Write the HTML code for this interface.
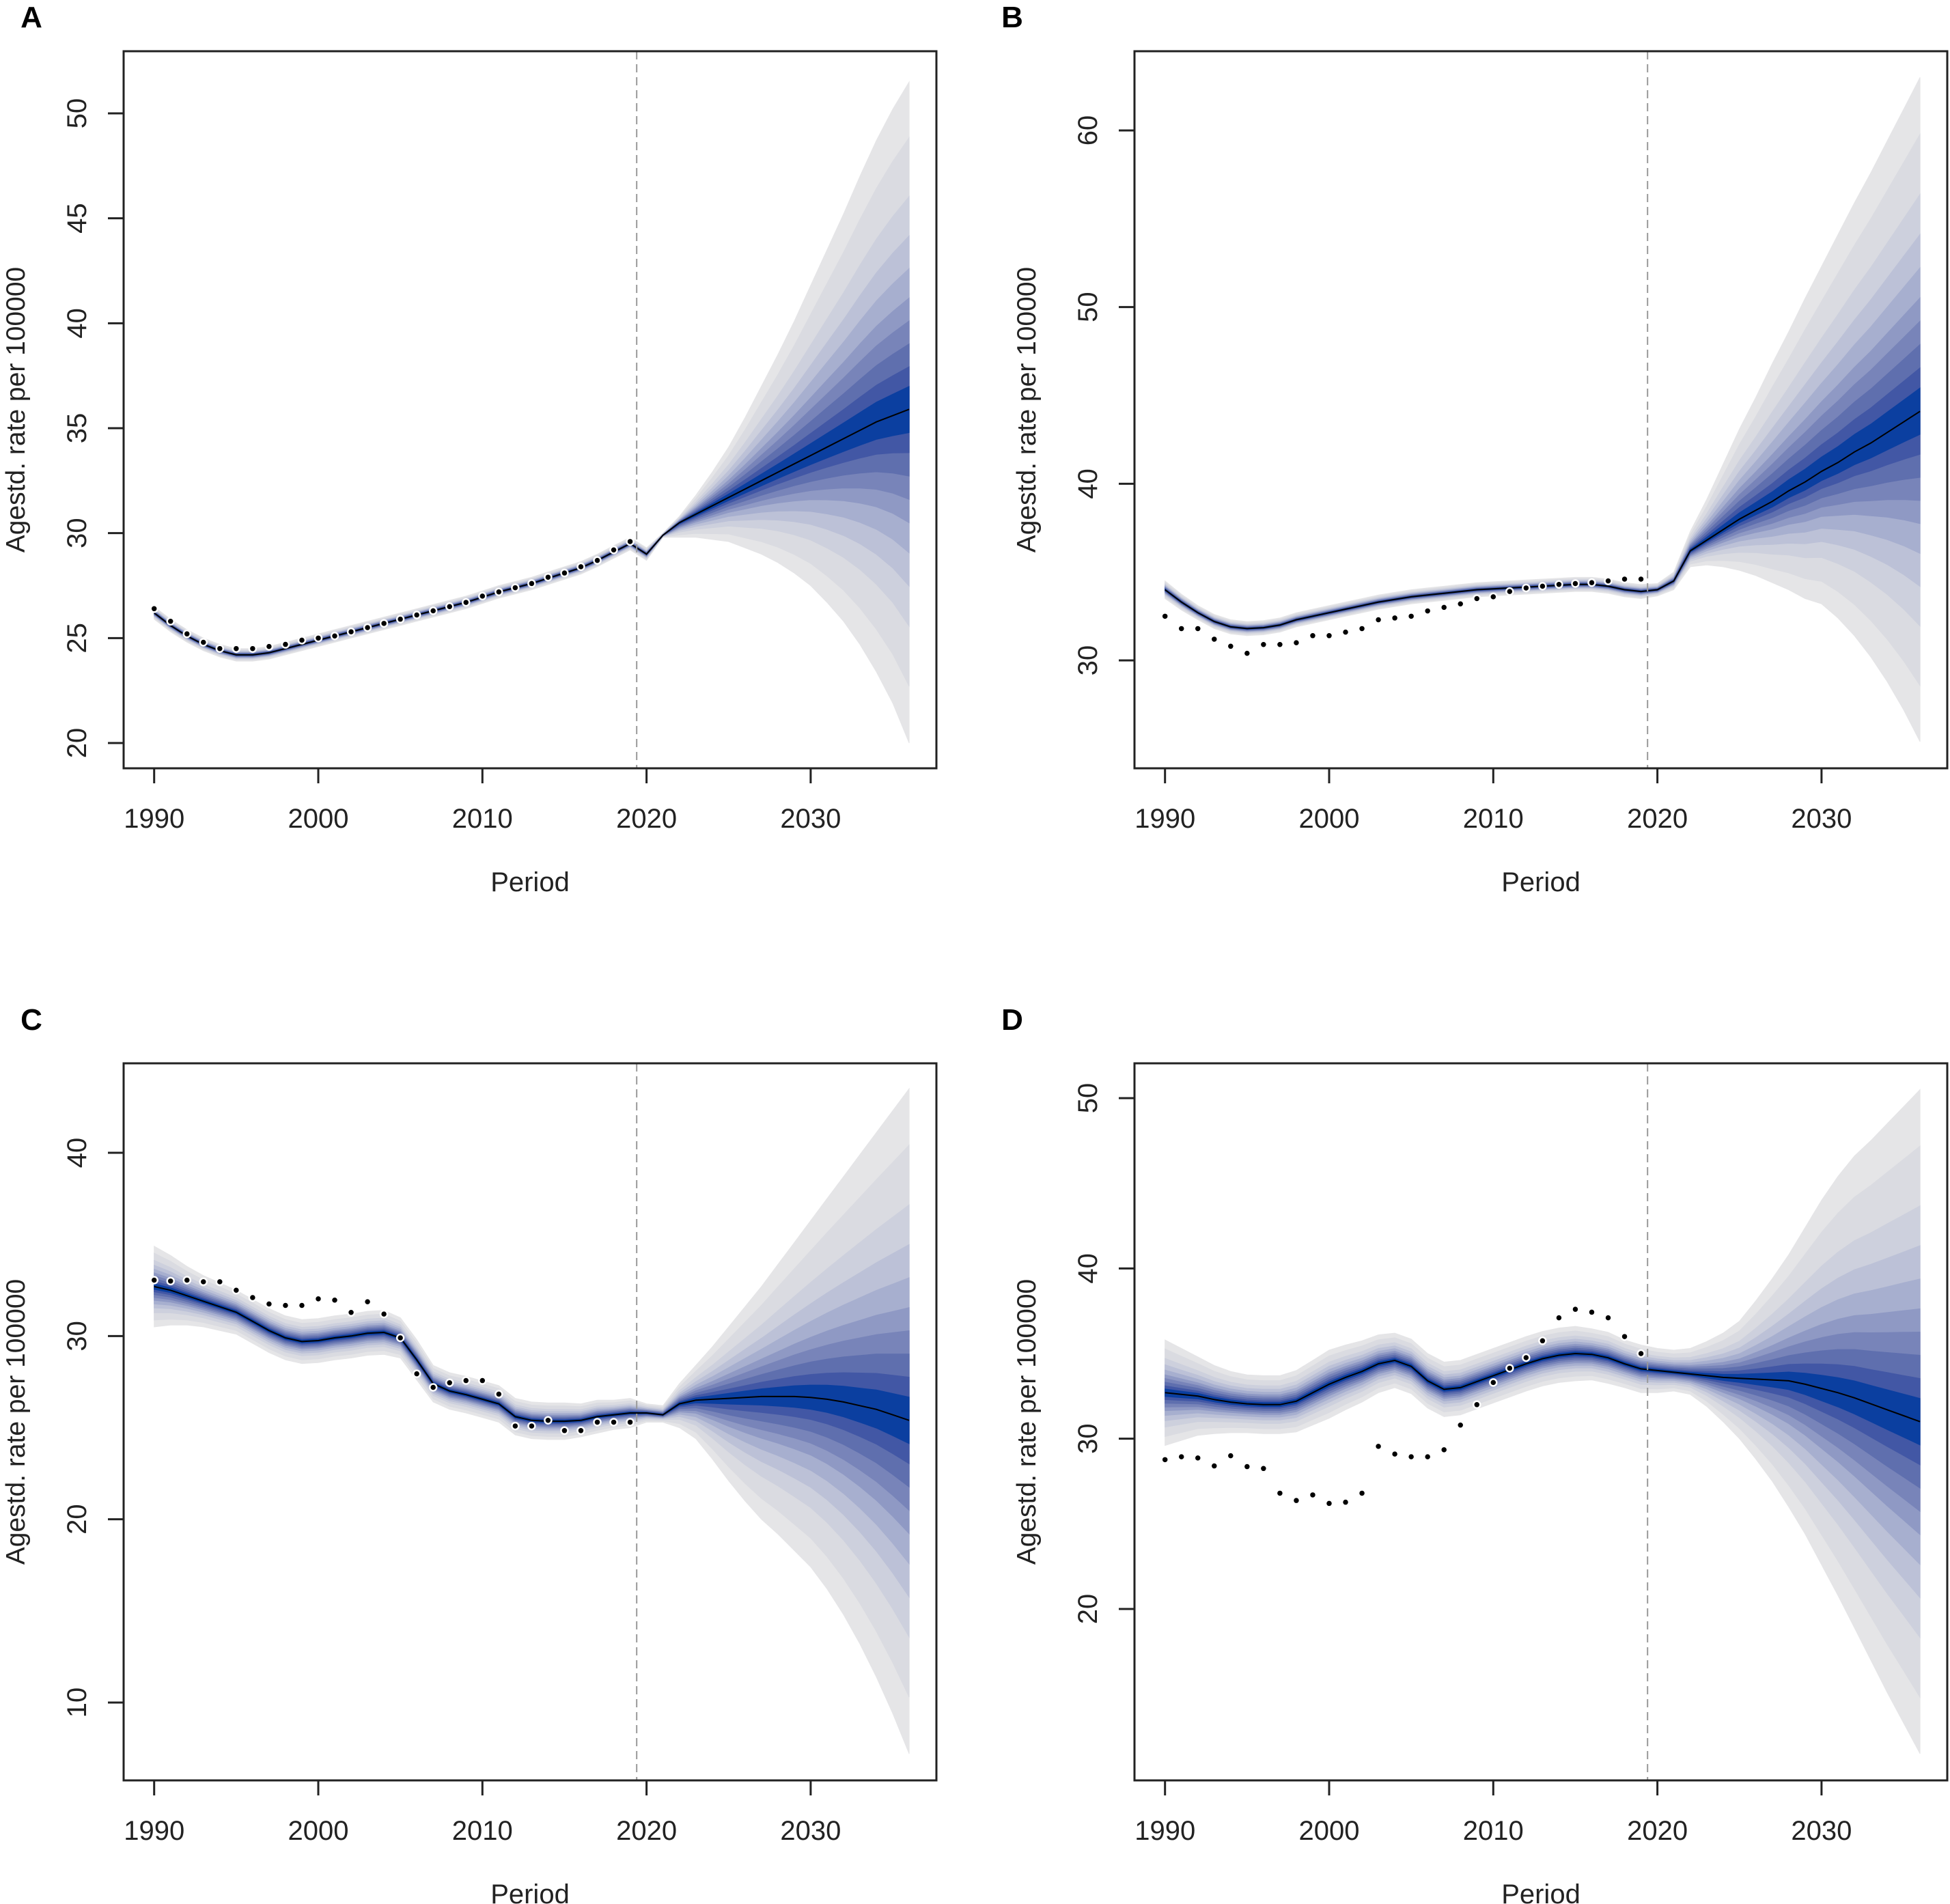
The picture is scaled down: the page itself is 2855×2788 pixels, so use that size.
<!DOCTYPE html>
<html><head><meta charset="utf-8"><style>
html,body{margin:0;padding:0;background:#fff;}
svg{display:block;font-family:"Liberation Sans",Arial,sans-serif;}
</style></head><body>
<svg id="fig" width="2855" height="2788" viewBox="0 0 2855 2788" xmlns="http://www.w3.org/2000/svg"></svg>
<script>
const years = [];
for (let y = 1990; y <= 2036; y++) years.push(y);
const xTicks = [1990, 2000, 2010, 2020, 2030];

// Panel A
const centerA = [26.2,25.6,25.1,24.7,24.4,24.2,24.2,24.3,24.5,24.7,24.9,25.1,25.3,25.5,25.7,25.9,26.1,26.3,26.5,26.7,26.95,27.2,27.4,27.6,27.85,28.1,28.35,28.7,29.1,29.5,
 29.0,29.9,30.5,30.9,31.3,31.7,32.1,32.5,32.9,33.3,33.7,34.1,34.5,34.9,35.3,35.6,35.9];
const obsA = [26.4,25.8,25.2,24.8,24.5,24.5,24.5,24.6,24.7,24.9,25.0,25.1,25.3,25.5,25.7,25.9,26.1,26.3,26.5,26.7,27.0,27.2,27.4,27.6,27.9,28.1,28.4,28.7,29.2,29.6];
const histWidthA = [0.3,0.3,0.3,0.3,0.3,0.3,0.3,0.3,0.3,0.3,0.3,0.3,0.3,0.3,0.3,0.3,0.3,0.3,0.3,0.3,0.3,0.3,0.3,0.3,0.3,0.3,0.3,0.3,0.3,0.3];
const hiA = [29.3,30.0,30.8,31.8,32.9,34.1,35.5,37.0,38.5,40.1,41.8,43.5,45.2,47.0,48.7,50.2,51.5];
const loA = [28.7,29.8,29.8,29.8,29.7,29.6,29.3,29.0,28.6,28.1,27.5,26.7,25.8,24.7,23.4,21.9,20.0];
const yTicksA = [20,25,30,35,40,45,50];

// Panel B
const centerB = [34.0,33.3,32.7,32.2,31.9,31.8,31.85,32.0,32.3,32.5,32.7,32.9,33.1,33.3,33.45,33.6,33.7,33.8,33.9,34.0,34.05,34.1,34.15,34.2,34.25,34.3,34.3,34.2,34.0,33.9,
 34.0,34.5,36.2,36.8,37.4,38.0,38.5,39.0,39.6,40.1,40.7,41.2,41.8,42.3,42.9,43.5,44.1];
const obsB = [32.5,31.8,31.8,31.2,30.8,30.4,30.9,30.9,31.0,31.4,31.4,31.6,31.8,32.3,32.4,32.5,32.8,33.0,33.2,33.5,33.6,33.9,34.1,34.2,34.3,34.35,34.4,34.5,34.6,34.6];
const histWidthB = [0.5,0.45,0.4,0.4,0.4,0.4,0.4,0.4,0.4,0.4,0.4,0.4,0.4,0.4,0.4,0.4,0.4,0.4,0.4,0.4,0.4,0.4,0.4,0.4,0.4,0.4,0.4,0.4,0.4,0.4];
const hiB = [34.35,35.0,37.3,39.1,41.1,43.1,44.9,46.8,48.6,50.5,52.3,54.1,55.9,57.6,59.4,61.2,63.0];
const loB = [33.65,34.0,35.3,35.4,35.3,35.1,34.8,34.4,34.0,33.5,33.2,32.4,31.4,30.2,28.8,27.2,25.4];
const yTicksB = [30,40,50,60];

// Panel C
const centerC = [32.7,32.5,32.2,31.9,31.6,31.3,30.8,30.3,29.9,29.7,29.75,29.9,30.0,30.15,30.2,29.9,28.7,27.4,27.0,26.8,26.55,26.3,25.6,25.4,25.35,25.35,25.4,25.6,25.7,25.8,
 25.8,25.7,26.3,26.5,26.55,26.6,26.65,26.7,26.7,26.7,26.65,26.55,26.4,26.2,26.0,25.7,25.4];
const obsC = [33.05,33.0,33.05,32.96,32.96,32.5,32.1,31.75,31.67,31.67,32.03,31.96,31.29,31.87,31.2,29.9,27.94,27.2,27.45,27.57,27.57,26.83,25.09,25.09,25.4,24.84,24.84,25.3,25.3,25.3];
const histWidthC = [2.2,1.9,1.6,1.4,1.3,1.2,1.2,1.2,1.2,1.2,1.2,1.2,1.2,1.2,1.2,1.1,1.1,1.0,1.0,1.0,1.0,1.0,1.0,1.0,1.0,1.0,0.9,0.9,0.8,0.8];
const hiC = [26.3,26.2,27.4,28.4,29.4,30.5,31.6,32.7,33.9,35.1,36.3,37.5,38.7,39.9,41.1,42.3,43.5];
const loC = [25.3,25.3,25.0,24.4,23.3,22.1,21.0,20.0,19.2,18.3,17.4,16.2,14.8,13.2,11.4,9.4,7.2];
const yTicksC = [10,20,30,40];

// Panel D
const centerD = [32.7,32.6,32.5,32.3,32.15,32.05,32.0,32.0,32.2,32.7,33.2,33.6,33.95,34.4,34.6,34.25,33.4,32.9,33.0,33.35,33.7,34.05,34.4,34.7,34.9,35.0,34.95,34.75,34.4,34.1,
 34.0,33.9,33.8,33.7,33.6,33.55,33.5,33.45,33.4,33.2,32.95,32.7,32.4,32.05,31.7,31.35,31.0];
const obsD = [28.77,28.94,28.87,28.4,29.0,28.36,28.25,26.8,26.37,26.7,26.2,26.27,26.8,29.55,29.1,28.94,28.94,29.35,30.8,32.0,33.3,34.14,34.76,35.75,37.1,37.6,37.43,37.1,36.0,35.0];
const histWidthD = [3.1,2.7,2.3,2.0,1.8,1.7,1.7,1.7,1.8,1.9,2.0,1.9,1.8,1.7,1.6,1.6,1.6,1.6,1.6,1.6,1.6,1.6,1.6,1.6,1.6,1.6,1.5,1.5,1.4,1.4];
const hiD = [35.3,35.2,35.3,35.7,36.2,36.9,38.1,39.4,40.8,42.4,44.0,45.4,46.6,47.5,48.5,49.5,50.5];
const loD = [32.7,32.8,32.6,31.9,31.0,30.0,28.8,27.5,26.0,24.4,22.6,20.8,18.9,17.0,15.1,13.3,11.5];
const yTicksD = [20,30,40,50];

const cutYear = 2019.4;
const bandFracs = [1,0.83,0.65,0.53,0.43,0.34,0.27,0.20,0.13,0.07];
const bandColors = ['#e5e5e7','#dadbe1','#cdd0dd','#bcc1d7','#a7afcf','#8f99c4','#7884b9','#5f6fae','#4257a5','#0b3fa0'];

const NS = 'http://www.w3.org/2000/svg';
const svg = document.getElementById('fig');
function mk(tag, attrs, parent) {
  const e = document.createElementNS(NS, tag);
  for (const k in attrs) e.setAttribute(k, attrs[k]);
  parent.appendChild(e);
  return e;
}

const panels = [
  {letter:'A', ox:0, oy:0, lx:46, ly:40, center:centerA, obs:obsA, hw:histWidthA, hi:hiA, lo:loA, ticks:yTicksA, v0:20, p0:1088, v1:50, p1:166},
  {letter:'B', ox:1480, oy:0, lx:2, ly:40, center:centerB, obs:obsB, hw:histWidthB, hi:hiB, lo:loB, ticks:yTicksB, v0:30, p0:967, v1:60, p1:191},
  {letter:'C', ox:0, oy:1482, lx:46, ly:26, center:centerC, obs:obsC, hw:histWidthC, hi:hiC, lo:loC, ticks:yTicksC, v0:10, p0:1011, v1:40, p1:206},
  {letter:'D', ox:1480, oy:1482, lx:2, ly:26, center:centerD, obs:obsD, hw:histWidthD, hi:hiD, lo:loD, ticks:yTicksD, v0:20, p0:874, v1:50, p1:126}
];

const BL = 181, BR = 1371, BT = 75, BB = 1125;
function xs(yr) { return 225.7 + (yr - 1990) * 24.03; }

panels.forEach(p => {
  const g = mk('g', {transform:`translate(${p.ox},${p.oy})`}, svg);
  
  
  const ys = v => p.p0 + (v - p.v0) * (p.p1 - p.p0) / (p.v1 - p.v0);

  const nh = p.hw.length;
  const up = years.map((yr, i) => i < nh ? p.center[i] + p.hw[i] : p.hi[i - nh]);
  const dn = years.map((yr, i) => i < nh ? p.center[i] - p.hw[i] : p.lo[i - nh]);

  bandFracs.forEach((f, k) => {
    const top = years.map((yr, i) => [xs(yr), ys(p.center[i] + f * (up[i] - p.center[i]))]);
    const bot = years.map((yr, i) => [xs(yr), ys(p.center[i] - f * (p.center[i] - dn[i]))]).reverse();
    const pts = top.concat(bot).map(q => q[0].toFixed(1) + ',' + q[1].toFixed(1)).join(' ');
    const poly = mk('polygon', {points:pts, fill:bandColors[k], stroke:bandColors[k], 'stroke-width':1}, g);
    
    
  });

  const line = mk('polyline', {points: years.map((yr, i) => xs(yr).toFixed(1) + ',' + ys(p.center[i]).toFixed(1)).join(' '), fill:'none', stroke:'#000', 'stroke-width':2}, g);
  
  

  p.obs.forEach((v, i) => {
    const d = mk('circle', {cx:xs(1990 + i), cy:ys(v), r:5, fill:'#000', stroke:'#fff', 'stroke-width':2.5}, g);
    
    
  });

  const cut = mk('line', {x1:xs(cutYear), x2:xs(cutYear), y1:BT, y2:BB, stroke:'#999', 'stroke-width':2, 'stroke-dasharray':'12,7'}, g);
  
  

  const box = mk('rect', {x:BL, y:BT, width:BR - BL, height:BB - BT, fill:'none', stroke:'#222', 'stroke-width':3}, g);
  
  

  xTicks.forEach(t => {
    const tk = mk('line', {x1:xs(t), x2:xs(t), y1:BB, y2:BB + 22, stroke:'#222', 'stroke-width':3}, g);
    
    
    const tl = mk('text', {x:xs(t), y:1212, 'text-anchor':'middle', 'font-size':40, fill:'#222'}, g);
    tl.textContent = t;
    
    
  });
  p.ticks.forEach(t => {
    const tk = mk('line', {x1:BL - 23, x2:BL, y1:ys(t), y2:ys(t), stroke:'#222', 'stroke-width':3}, g);
    
    
    const tl = mk('text', {x:0, y:0, transform:`translate(126,${ys(t)}) rotate(-90)`, 'text-anchor':'middle', 'font-size':40, fill:'#222'}, g);
    tl.textContent = t;
    
    
  });

  const yt = mk('text', {x:0, y:0, transform:`translate(36,${(BT + BB) / 2}) rotate(-90)`, 'text-anchor':'middle', 'font-size':39, fill:'#222'}, g);
  yt.textContent = 'Agestd. rate per 100000';
  
  

  const xt = mk('text', {x:776, y:1305, 'text-anchor':'middle', 'font-size':40, fill:'#222'}, g);
  xt.textContent = 'Period';
  
  

  const lt = mk('text', {x:p.lx, y:p.ly, 'text-anchor':'middle', 'font-size':44, 'font-weight':'bold', fill:'#000'}, g);
  lt.textContent = p.letter;
  
  
});
</script>
</body></html>
